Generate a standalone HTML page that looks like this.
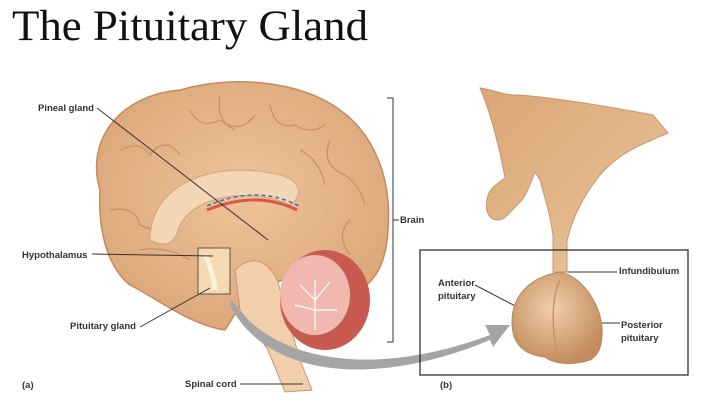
<!DOCTYPE html><html><head><style>body{margin:0;background:#fff;width:703px;height:407px;overflow:hidden}</style></head><body>
<svg width="703" height="407" xmlns="http://www.w3.org/2000/svg" font-family="Liberation Sans, sans-serif">
<defs>
<radialGradient id="br" cx="50%" cy="45%" r="60%"><stop offset="0" stop-color="#eec39a"/><stop offset="1" stop-color="#dba678"/></radialGradient>
<radialGradient id="pit" cx="45%" cy="40%" r="60%"><stop offset="0" stop-color="#f0d0aa"/><stop offset="1" stop-color="#c48c5e"/></radialGradient>
<linearGradient id="hy" x1="0" y1="0" x2="1" y2="1"><stop offset="0" stop-color="#d9a676"/><stop offset="0.6" stop-color="#e3b88c"/><stop offset="1" stop-color="#f0d2b0"/></linearGradient>
</defs>
<text x="12" y="40" font-family="Liberation Serif, serif" font-size="43" fill="#111" textLength="356" lengthAdjust="spacingAndGlyphs">The Pituitary Gland</text>
<!-- brain -->
<path d="M100,190 C85,140 120,95 180,90 C230,75 300,80 340,110 C375,135 392,180 388,230 C386,265 375,280 360,290 L300,275 L250,290 L225,330 C190,325 160,300 130,285 C105,265 98,225 100,190Z" fill="url(#br)" stroke="#c48a5c" stroke-width="1.5"/>
<g stroke="#c28a5e" stroke-width="1.3" fill="none" opacity="0.8">
<path d="M120,150 q20,-10 30,5 q15,-20 30,0"/><path d="M190,110 q10,20 30,10 q20,15 35,-5"/><path d="M270,105 q5,25 25,20 q15,10 30,0"/><path d="M330,140 q-10,25 15,35 q15,10 20,30"/><path d="M110,210 q25,-5 30,15 q20,10 40,0"/><path d="M350,220 q-15,15 0,35"/><path d="M140,250 q25,-5 50,10"/><path d="M220,95 q-5,25 15,35"/><path d="M300,150 q20,10 25,35"/>
</g>
<path d="M150,240 C150,180 220,160 280,175 C300,180 305,195 290,205 C260,190 200,190 180,225 C175,240 170,250 150,240Z" fill="#f3d6b6" stroke="#d2a67e"/>
<path d="M207,210 q50,-20 90,0" stroke="#d85a3f" stroke-width="3" fill="none"/>
<path d="M207,206 q50,-22 92,0" stroke="#3c6fbd" stroke-width="1.5" stroke-dasharray="4 3" fill="none"/>
<path d="M235,270 C255,250 275,265 280,290 L300,360 L312,390 L285,392 L268,350 L240,310Z" fill="#f0cfaa" stroke="#c9976c"/>
<ellipse cx="325" cy="300" rx="45" ry="50" fill="#c95a52"/>
<ellipse cx="315" cy="295" rx="35" ry="40" fill="#f0b8ae"/>
<g stroke="#fff" stroke-width="1.2" fill="none"><path d="M315,330 L315,280 M315,300 l-15,-15 M315,300 l15,-18 M315,310 l-20,-5 M315,310 l22,0"/></g>
<rect x="198" y="248" width="32" height="46" fill="#f5d9b0" stroke="#555" stroke-width="1"/>
<path d="M205,255 q8,15 10,35" stroke="#fff2dc" stroke-width="5" fill="none"/>
<g font-size="9.5" font-weight="bold" fill="#333">
<text x="38" y="111">Pineal gland</text><text x="22" y="258">Hypothalamus</text><text x="70" y="329">Pituitary gland</text><text x="185" y="387">Spinal cord</text><text x="22" y="388">(a)</text><text x="400" y="223">Brain</text>
<text x="440" y="388">(b)</text><text x="531" y="143">Hypothalamus</text><text x="438" y="286">Anterior</text><text x="438" y="299">pituitary</text><text x="619" y="274">Infundibulum</text><text x="621" y="328">Posterior</text><text x="621" y="341">pituitary</text>
</g>
<g stroke="#333" stroke-width="1" fill="none">
<path d="M97,108 L268,240"/><path d="M92,254 L213,256"/><path d="M140,327 L210,288"/><path d="M240,384 L303,384"/>
<path d="M387,98 H393 V342 H387"/><path d="M393,220 H399"/>
<path d="M475,285 L523,310"/><path d="M563,272 L617,272"/><path d="M583,323 L620,323"/>
</g>
<path d="M232,300 C270,360 370,380 490,335 L485,325 L510,325 L493,347 L490,340 C370,390 265,375 230,305Z" fill="#a5a5a5"/>
<!-- right hypothalamus -->
<path d="M480,88 C495,90 505,96 520,95 C555,98 600,105 653,115 L668,133 C640,145 620,152 600,175 C580,200 570,225 567,242 L567,272 L553,272 L553,235 C550,215 547,205 540,180 L535,172 C530,185 525,198 520,202 C510,212 505,220 498,220 C488,220 485,210 487,200 C488,190 495,185 505,178 C500,150 490,110 480,88Z" fill="url(#hy)" stroke="#c9956a"/>
<rect x="420" y="250" width="268" height="125" fill="none" stroke="#222" stroke-width="1.2"/>
<path d="M560,272 C525,278 512,300 512,322 C512,345 525,355 545,357 C555,365 575,365 590,360 C605,352 605,325 596,305 C588,288 575,275 560,272Z" fill="url(#pit)" stroke="#b8855a"/>
<path d="M560,280 C550,300 552,340 560,360" stroke="#c89262" stroke-width="1.5" fill="none"/>
</svg>
</body></html>
